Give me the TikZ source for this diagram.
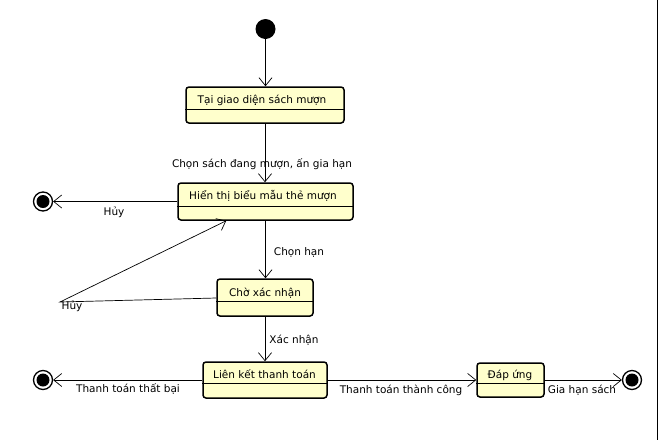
\documentclass[tikz,border=0pt]{standalone}
\usepackage{fontspec}
\setmainfont{DejaVu Sans}
\usetikzlibrary{arrows.meta,calc}
\definecolor{statefill}{HTML}{FFFFCC}
\begin{document}
\begin{tikzpicture}[x=1pt,y=-1pt,
  font=\fontsize{10.5}{12}\selectfont,
  state/.style={draw=black, line width=1.5pt, fill=statefill, rounded corners=3pt, inner sep=0pt},
  tr/.style={draw, line width=0.7pt, -{Straight Barb[length=8pt,width=13pt]}},
  lbl/.style={inner sep=0pt, anchor=center},
  initst/.style={circle, fill=black, minimum size=20pt, inner sep=0pt},
  finalst/.style={circle, draw, line width=1.3pt, minimum size=19pt, inner sep=0pt,
    path picture={\fill[black] (path picture bounding box.center) circle (6.5pt);}},
  divider/.style={line width=0.8pt}
]
\useasboundingbox (0,0) rectangle (665,440);
\draw[line width=1pt] (657,0) -- (657,440);

% states
\node[initst] (init) at (265.5,29) {};
\node[state, minimum width=158pt, minimum height=36pt] (s1) at (265,105) {};
\node[state, minimum width=175pt, minimum height=37pt] (s2) at (265.5,201.5) {};
\node[state, minimum width=96pt, minimum height=37pt] (s3) at (265,297.5) {};
\node[state, minimum width=124pt, minimum height=36pt] (s4) at (265,380) {};
\node[state, minimum width=67pt, minimum height=34pt] (s5) at (510.5,380) {};
\node[finalst] (f1) at (43,201.5) {};
\node[finalst] (f2) at (43,380) {};
\node[finalst] (f3) at (632,380) {};

% dividers
\draw[divider] (s1.north west) ++(0,23) coordinate (d1) -- (d1 -| s1.east);
\draw[divider] (s2.north west) ++(0,24) coordinate (d2) -- (d2 -| s2.east);
\draw[divider] (s3.north west) ++(0,23) coordinate (d3) -- (d3 -| s3.east);
\draw[divider] (s4.north west) ++(0,22) coordinate (d4) -- (d4 -| s4.east);
\draw[divider] (s5.north west) ++(0,21) coordinate (d5) -- (d5 -| s5.east);

% state names
\node[lbl] (t1) at (262,100) {Tại giao diện sách mượn};
\node[lbl] (t2) at (263,196) {Hiển thị biểu mẫu thẻ mượn};
\node[lbl] (t3) at (265,293) {Chờ xác nhận};
\node[lbl] (t4) at (264.5,374) {Liên kết thanh toán};
\node[lbl] (t5) at (510,375) {Đáp ứng};

% transitions
\draw[tr] (init) -- (init |- s1.north);
\draw[tr] (s1.south) -- (s1.south |- s2.north);
\draw[tr] (s2.west) -- (f1.east);
\draw[tr] (s2.south) -- (s2.south |- s3.north);
\coordinate (hloop) at (60,302);
\draw[tr] ($(s3.west)+(0,0.5)$) -- (hloop) -- ($(s2.south west)+(49,0)$);
\draw[tr] (s3.south) -- (s3.south |- s4.north);
\draw[tr] (s4.west) -- (f2.east);
\draw[tr] (s4.east) -- (s5.west);
\draw[tr] (s5.east) -- (f3.west);

% labels
\node[lbl] (l1) at (262,164) {Chọn sách đang mượn, ấn gia hạn};
\node[lbl] (l2) at (114,212) {Hủy};
\node[lbl] (l3) at (299,252) {Chọn hạn};
\node[lbl] (l4) at (72,306) {Hủy};
\node[lbl] (l5) at (294,340) {Xác nhận};
\node[lbl] (l6) at (128,389) {Thanh toán thất bại};
\node[lbl] (l7) at (401,390) {Thanh toán thành công};
\node[lbl] (l8) at (582,390) {Gia hạn sách};
\end{tikzpicture}
\end{document}
